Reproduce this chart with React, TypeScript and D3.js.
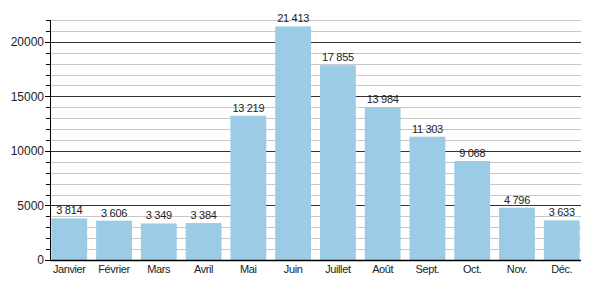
import React from "react";
import * as d3 from "d3";

const months = ["Janvier", "Février", "Mars", "Avril", "Mai", "Juin", "Juillet", "Août", "Sept.", "Oct.", "Nov.", "Déc."];
const values = [3814, 3606, 3349, 3384, 13219, 21413, 17855, 13984, 11303, 9068, 4796, 3633];
const majorTicks = [0, 5000, 10000, 15000, 20000];
const minorTicks = d3.range(0, 22001, 1000);

const W = 600, H = 300;
const M = { left: 50, right: 19, top: 20, bottom: 40 };

export default function App() {
  const x = d3.scaleBand<string>().domain(months).range([M.left, W - M.right]).paddingInner(0.2).paddingOuter(0.03);
  const y = d3.scaleLinear().domain([0, 22000]).range([H - M.bottom, M.top]);
  const fmt = (v: number) => d3.format(",")(v).replace(/,/g, "\u00a0");
  const font = "Liberation Sans, Arial, sans-serif";
  return (
    <svg width={W} height={H} style={{ position: "absolute", left: 0, top: 0, background: "#fff" }} fontFamily={font}>
      {minorTicks.map((t) => (
        <g key={t}>
          <line x1={M.left} x2={W - M.right} y1={Math.round(y(t)) + 0.5} y2={Math.round(y(t)) + 0.5}
            stroke={t % 5000 === 0 ? "#333" : "#c8c8c8"} strokeWidth={1} />
          <line x1={M.left - (t % 5000 === 0 ? 5 : 4)} x2={M.left} y1={Math.round(y(t)) + 0.5} y2={Math.round(y(t)) + 0.5} stroke="#000" />
        </g>
      ))}
      {majorTicks.map((t) => (
        <text key={t} x={M.left - 6} y={y(t)} dy="0.35em" textAnchor="end" fontSize={12} fill="#222">{t}</text>
      ))}
      {values.map((v, i) => (
        <g key={months[i]}>
          <rect x={x(months[i])} y={y(v)} width={x.bandwidth()} height={y(0) - y(v)} fill="#9bcbe5" />
          <text x={(x(months[i]) as number) + x.bandwidth() / 2} y={y(v) - 4} textAnchor="middle" fontSize={11} letterSpacing={-0.3} fill="#222">{fmt(v)}</text>
          <text x={(x(months[i]) as number) + x.bandwidth() / 2} y={y(0) + 13} textAnchor="middle" fontSize={11} letterSpacing={-0.4} fill="#222">{months[i]}</text>
        </g>
      ))}
      <line x1={M.left + 0.5} x2={M.left + 0.5} y1={M.top} y2={y(0)} stroke="#000" />
      <line x1={M.left} x2={W - M.right} y1={Math.round(y(0)) + 0.5} y2={Math.round(y(0)) + 0.5} stroke="#000" strokeWidth={1.5} />
    </svg>
  );
}
